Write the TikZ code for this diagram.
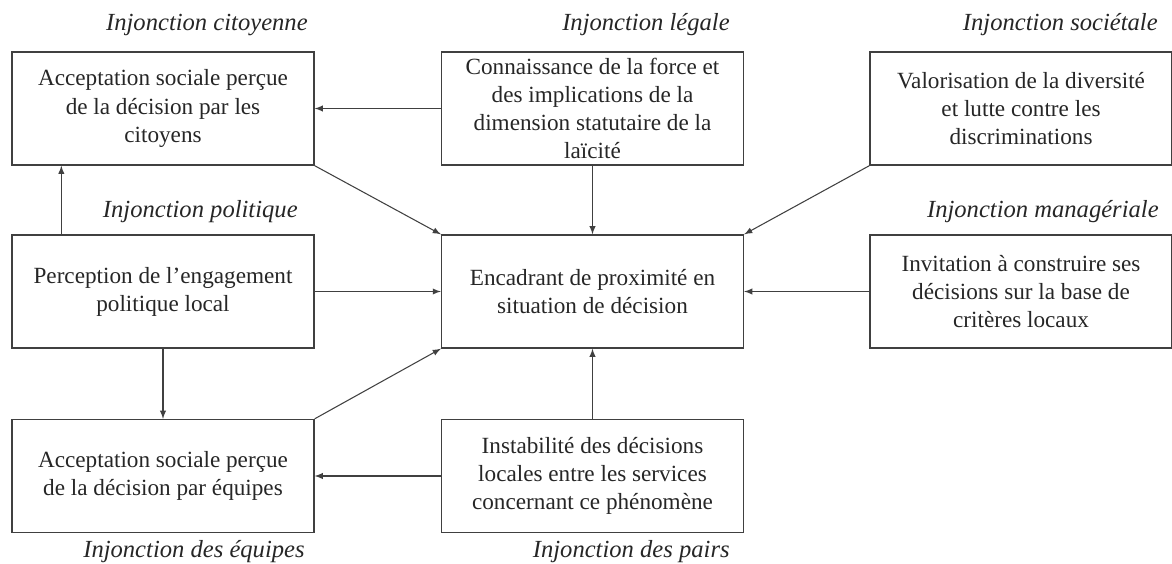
\documentclass[tikz,border=0pt]{standalone}
\usepackage{fontspec}
\setmainfont{Liberation Serif}
\usetikzlibrary{calc}

\begin{document}
\begin{tikzpicture}[x=0.02cm,y=-0.02cm,
    box/.style={draw=black!75,line width=0.8pt,minimum width=6.04cm,minimum height=2.26cm,
      align=center,inner sep=0pt,text=black!85,
      font=\fontsize{13.2}{16}\selectfont},
    injonction/.style={anchor=east,inner sep=0pt,text=black!85,font=\fontsize{14}{16}\selectfont\itshape},
    link/.style={draw=black!75,line width=0.6pt,-latex}]
            \useasboundingbox (0,0) rectangle (1172,564);

            \node[box] (citoyens) at (163,108.5) {Acceptation sociale perçue\\de la décision par les\\citoyens};
            \node[box] (laicite) at (592.5,108.5) {Connaissance de la force et\\des implications de la\\dimension statutaire de la\\laïcité};
            \node[box] (diversite) at (1021,108.5) {Valorisation de la diversité\\et lutte contre les\\discriminations};
            \node[box] (politique) at (163,291.5) {Perception de l’engagement\\politique local};
            \node[box] (encadrant) at (592.5,291.5) {Encadrant de proximité en\\situation de décision};
            \node[box] (criteres) at (1021,291.5) {Invitation à construire ses\\décisions sur la base de\\critères locaux};
            \node[box] (equipes) at (163,476) {Acceptation sociale perçue\\de la décision par équipes};
            \node[box] (services) at (592.5,476) {Instabilité des décisions\\locales entre les services\\concernant ce phénomène};

            \node[injonction] (injcit) at (308,25) {Injonction citoyenne};
            \node[injonction] (injleg) at (730,25) {Injonction légale};
            \node[injonction] (injsoc) at (1158,25) {Injonction sociétale};
            \node[injonction] (injpol) at (298,212) {Injonction politique};
            \node[injonction] (injman) at (1159,212) {Injonction managériale};
            \node[injonction] (injequ) at (305,552) {Injonction des équipes};
            \node[injonction] (injpai) at (730,552) {Injonction des pairs};

            \draw[link] (laicite.west) -- (citoyens.east);
            \draw[link] (laicite.south) -- (encadrant.north);
            \draw[link] (citoyens.south east) -- (encadrant.north west);
            \draw[link] (diversite.south west) -- (encadrant.north east);
            \draw[link] (politique.north west) ++(50,0) coordinate (polup) -- (polup |- citoyens.south);
            \draw[link] (politique.east) -- (encadrant.west);
            \draw[link] (criteres.west) -- (encadrant.east);
            \draw[link] (politique.south) -- (equipes.north);
            \draw[link] (equipes.north east) -- (encadrant.south west);
            \draw[link] (services.north) -- (encadrant.south);
            \draw[link] (services.west) -- (equipes.east);
        \end{tikzpicture}
\end{document}
